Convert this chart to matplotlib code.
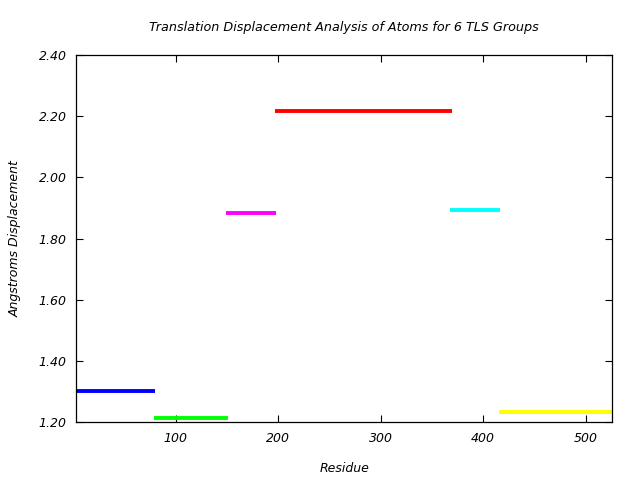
import matplotlib
matplotlib.use("Agg")
import matplotlib.pyplot as plt
from matplotlib.ticker import FormatStrFormatter, MultipleLocator

# TLS group segments: residue start, residue end, displacement
seg_start = [2, 79, 149, 197, 368, 415]
seg_end = [80, 151, 198, 370, 416, 526]
seg_value = [1.301, 1.213, 1.883, 2.216, 1.894, 1.233]
seg_colors = ["#0000ff", "#00ff00", "#ff00ff", "#ff0000", "#00ffff", "#ffff00"]

title = "Translation Displacement Analysis of Atoms for 6 TLS Groups"
xlabel = "Residue"
ylabel = "Angstroms Displacement"

fig = plt.figure(figsize=(6.4, 4.8), dpi=100)
ax = fig.add_axes([0.1192, 0.1202, 0.8375, 0.7652])

for s, e, v, c in zip(seg_start, seg_end, seg_value, seg_colors):
    ax.plot([s, e], [v, v], color=c, linewidth=2.8, solid_capstyle="butt")

ax.set_xlim(3, 526)
ax.set_ylim(1.2, 2.4)
ax.xaxis.set_major_locator(MultipleLocator(100))
ax.yaxis.set_major_locator(MultipleLocator(0.2))
ax.yaxis.set_major_formatter(FormatStrFormatter("%.2f"))
ax.tick_params(direction="in", top=True, right=True, length=5, width=0.8,
               labelsize=9, pad=7)
for lab in ax.get_xticklabels() + ax.get_yticklabels():
    lab.set_fontstyle("italic")
for sp in ax.spines.values():
    sp.set_linewidth(0.9)

ax.set_title(title, fontsize=9.2, fontstyle="italic", pad=17)
ax.set_xlabel(xlabel, fontsize=9, fontstyle="italic", labelpad=12)
ax.set_ylabel(ylabel, fontsize=9, fontstyle="italic", labelpad=12)

fig.savefig("out.png", dpi=100)
